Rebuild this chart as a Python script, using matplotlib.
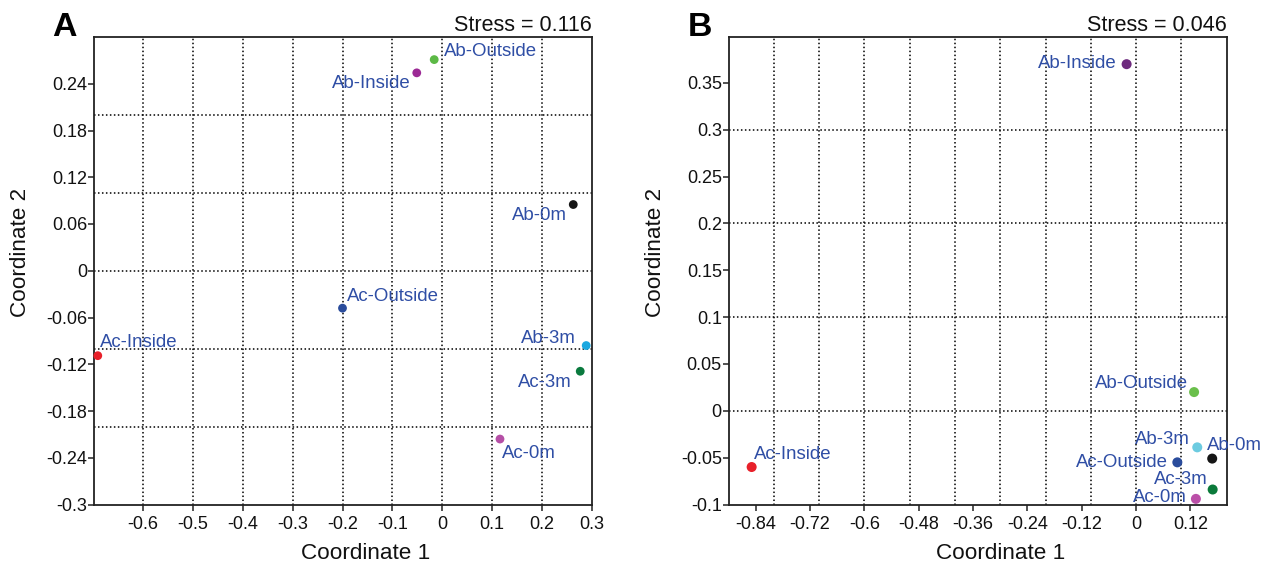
import matplotlib
matplotlib.use("Agg")
import matplotlib.pyplot as plt

plt.rcParams['font.family'] = ['Liberation Sans', 'DejaVu Sans']

# ---------------- data ----------------
names_a = ["Ab-Outside", "Ab-Inside", "Ab-0m", "Ac-Outside", "Ac-Inside", "Ab-3m", "Ac-3m", "Ac-0m"]
x_a = [-0.016, -0.051, 0.263, -0.200, -0.691, 0.289, 0.277, 0.116]
y_a = [0.271, 0.254, 0.085, -0.048, -0.109, -0.096, -0.129, -0.216]
colors_a = ["#5cb946", "#9c2a95", "#151515", "#2a4c9c", "#e8202a", "#1ca8e0", "#0a7a3e", "#b54fa6"]
stress_a = "Stress = 0.116"

names_b = ["Ab-Inside", "Ab-Outside", "Ab-3m", "Ab-0m", "Ac-Outside", "Ac-3m", "Ac-0m", "Ac-Inside"]
x_b = [-0.021, 0.128, 0.135, 0.168, 0.091, 0.169, 0.132, -0.849]
y_b = [0.370, 0.020, -0.039, -0.051, -0.055, -0.084, -0.094, -0.060]
colors_b = ["#6e2a7e", "#6abf4b", "#6ccbe0", "#151515", "#2a4c9c", "#0b7a3a", "#bb4fa8", "#e8202a"]
stress_b = "Stress = 0.046"

xticks_a = [-0.6, -0.5, -0.4, -0.3, -0.2, -0.1, 0, 0.1, 0.2, 0.3]
xticklabels_a = ["-0.6", "-0.5", "-0.4", "-0.3", "-0.2", "-0.1", "0", "0.1", "0.2", "0.3"]
yticks_a = [-0.3, -0.24, -0.18, -0.12, -0.06, 0, 0.06, 0.12, 0.18, 0.24]
yticklabels_a = ["-0.3", "-0.24", "-0.18", "-0.12", "-0.06", "0", "0.06", "0.12", "0.18", "0.24"]
xgrid_a = [-0.6, -0.5, -0.4, -0.3, -0.2, -0.1, 0, 0.1, 0.2]
ygrid_a = [-0.2, -0.1, 0, 0.1, 0.2]

xticks_b = [-0.84, -0.72, -0.6, -0.48, -0.36, -0.24, -0.12, 0, 0.12]
xticklabels_b = ["-0.84", "-0.72", "-0.6", "-0.48", "-0.36", "-0.24", "-0.12", "0", "0.12"]
yticks_b = [-0.1, -0.05, 0, 0.05, 0.1, 0.15, 0.2, 0.25, 0.3, 0.35]
yticklabels_b = ["-0.1", "-0.05", "0", "0.05", "0.1", "0.15", "0.2", "0.25", "0.3", "0.35"]
xgrid_b = [-0.8, -0.7, -0.6, -0.5, -0.4, -0.3, -0.2, -0.1, 0, 0.1]
ygrid_b = [0, 0.1, 0.2, 0.3]

# ---------------- style / layout ----------------
# label offsets in pixels (dx, dy) and horizontal alignment
offs_a = [(10, 8, 'left'), (-6, -11, 'right'), (-6, -11, 'right'), (4, 12, 'left'),
          (2, 13, 'left'), (-10, 7, 'right'), (-9, -11, 'right'), (2, -14, 'left')]
offs_b = [(-10, 1, 'right'), (-6, 9, 'right'), (-7, 8, 'right'), (-5, 13, 'left'),
          (-9, 0, 'right'), (-5, 10, 'right'), (-9, 1, 'right'), (2, 13, 'left')]

LABEL_COLOR = "#2f4ea5"
W, H = 1274, 568
fig = plt.figure(figsize=(W / 100, H / 100), dpi=100)

def px_rect(l, r, t, b):
    return [l / W, (H - b) / H, (r - l) / W, (b - t) / H]

ax_a = fig.add_axes(px_rect(94.3, 591.7, 37, 504.5))
ax_b = fig.add_axes(px_rect(729, 1226.7, 37, 504.5))

def setup(ax, xlim, ylim, xt, xtl, yt, ytl, xg, yg, xs, ys, cols, names, offs, size, stress):
    ax.set_xlim(*xlim)
    ax.set_ylim(*ylim)
    for g in xg:
        ax.axvline(g, color='black', lw=1.1, ls=(0, (1, 1.6)), zorder=1)
    for g in yg:
        ax.axhline(g, color='black', lw=1.1, ls=(0, (1, 1.6)), zorder=1)
    ax.scatter(xs, ys, s=size, c=cols, zorder=3, clip_on=False, linewidths=0)
    for x, y, n, (dx, dy, ha) in zip(xs, ys, names, offs):
        ax.annotate(n, (x, y), xytext=(dx, dy), textcoords='offset pixels',
                    ha=ha, va='center', fontsize=13.4, color=LABEL_COLOR, zorder=4)
    ax.set_xticks(xt)
    ax.set_xticklabels(xtl)
    ax.set_yticks(yt)
    ax.set_yticklabels(ytl)
    ax.tick_params(axis='both', direction='out', length=4, width=1.1, labelsize=13,
                   color='#222222', labelcolor='#111111')
    ax.tick_params(axis='x', pad=4.5)
    ax.tick_params(axis='y', pad=1.2)
    for sp in ax.spines.values():
        sp.set_linewidth(1.3)
        sp.set_color('#222222')
    ax.set_xlabel("Coordinate 1", fontsize=16.2, color='#111111')
    ax.set_ylabel("Coordinate 2", fontsize=16.2, color='#111111')
    ax.xaxis.set_label_coords(0.545, -0.083)
    ax.yaxis.set_label_coords(-0.127, 0.54)
    ax.text(1.0, 1.025, stress, transform=ax.transAxes, ha='right', va='center',
            fontsize=15.5, color='#111111')

setup(ax_a, (-0.698, 0.298), (-0.3, 0.3), xticks_a, xticklabels_a, yticks_a, yticklabels_a,
      xgrid_a, ygrid_a, x_a, y_a, colors_a, names_a, offs_a, 40, stress_a)
setup(ax_b, (-0.899, 0.2), (-0.1, 0.399), xticks_b, xticklabels_b, yticks_b, yticklabels_b,
      xgrid_b, ygrid_b, x_b, y_b, colors_b, names_b, offs_b, 52, stress_b)

fig.text(52 / W, 1 - 36 / H, "A", fontsize=24.4, fontweight='bold', ha='left', va='baseline')
fig.text(688 / W, 1 - 36 / H, "B", fontsize=24.4, fontweight='bold', ha='left', va='baseline')

fig.savefig("out.png", dpi=100)
